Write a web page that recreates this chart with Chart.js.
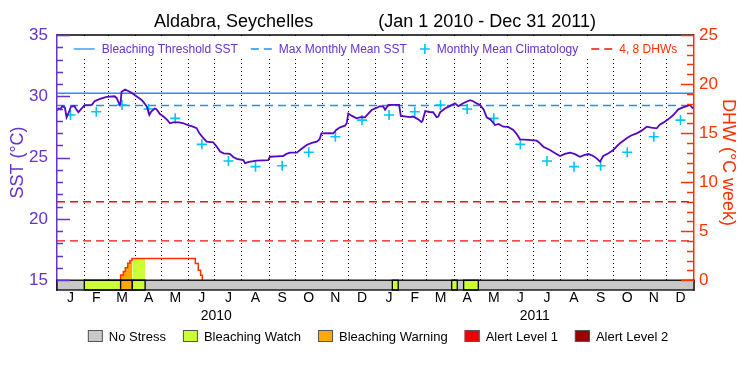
<!DOCTYPE html>
<html>
<head>
<meta charset="utf-8">
<script src="https://cdn.jsdelivr.net/npm/chart.js@4.4.1/dist/chart.umd.min.js"></script>
<style>
  html, body { margin: 0; padding: 0; background: #fff; }
</style>
</head>
<body>
<canvas id="chart" width="750" height="375"></canvas>
<script>
const MONTH_LABELS = ['J', 'F', 'M', 'A', 'M', 'J', 'J', 'A', 'S', 'O', 'N', 'D'];
const YEARS = [2010, 2011];

// monthly mean climatology (same every year)
const climatology = [28.47, 28.74, 29.29, 28.96, 28.2, 26.08, 24.72, 24.26, 24.34, 25.43, 26.7, 28.06];
const maxMonthlyMean = 29.25;
const bleachingThreshold = 30.25;
const dhwLevels = [4, 8];

const sstTickLabels = [15, 20, 25, 30, 35];
const dhwTickLabels = [0, 5, 10, 15, 20, 25];

// SST, day 0 = Jan 1 2010
const sstDay = [
  0, 2, 4, 6, 9, 11, 13, 16, 20, 22,
  24.5, 28, 32, 40, 43, 48, 51, 57, 66, 68.5,
  70.5, 72, 73, 74, 78, 81, 85, 89, 93, 97,
  100, 103, 105.8, 108, 112, 114, 118, 122, 126, 129.5,
  133, 140, 145, 150, 155, 160, 163, 167, 171.5, 179,
  183, 186.8, 191, 198, 202, 206, 213.5, 215.5, 220, 228.8,
  242, 244, 252, 259, 263, 267, 274.7, 280, 286, 292,
  297.6, 301, 303, 312, 316.6, 320, 324.3, 330, 332, 333.8,
  338, 343.4, 348, 353, 357, 360.6, 366, 370, 374, 376,
  379.7, 385.4, 392, 394, 404.5, 408, 414, 417.5, 419, 422,
  427, 431, 435, 437, 439, 444.6, 450, 456, 460, 466,
  473.3, 477, 481, 485, 489, 492.4, 497, 502, 506, 511.5,
  517, 523, 527, 530.6, 540, 549.7, 553, 557.3, 565, 570,
  576.4, 582, 587.9, 593, 599.4, 604, 609, 614, 618.5, 622.3,
  626, 632, 637.5, 642, 645.2, 652.9, 658, 664.3, 670, 675.8,
  681, 687.2, 691, 694.8, 700, 706.3, 712, 716, 721.6, 725.4,
  729,
];
const sstVal = [
  28.85, 29.0, 28.95, 29.2, 29.1, 28.28, 28.6, 29.15, 29.2, 28.95,
  28.7, 29.0, 29.28, 29.3, 29.6, 29.75, 29.83, 29.95, 30.0, 29.85,
  29.5, 29.3, 29.6, 30.37, 30.56, 30.45, 30.3, 30.1, 29.9, 29.7,
  29.45, 29.15, 28.47, 28.75, 29.0, 28.95, 28.55, 28.35, 28.1, 27.8,
  27.88, 27.87, 27.8, 27.65, 27.55, 27.4, 27.0, 26.65, 26.3, 26.25,
  25.9, 25.5, 25.35, 25.3, 25.05, 24.9, 24.8, 24.55, 24.65, 24.75,
  24.8, 25.07, 25.1, 25.13, 25.3, 25.4, 25.4, 25.7, 26.03, 26.2,
  26.3, 26.5, 26.98, 27.0, 26.98, 27.25, 27.47, 27.6, 27.8, 28.6,
  28.4, 28.2, 28.3, 28.28, 28.6, 28.88, 29.05, 29.2, 29.15, 28.9,
  29.29, 29.3, 29.3, 28.4, 28.3, 28.35, 28.12, 27.9, 28.0, 28.8,
  28.72, 28.7, 28.3, 28.35, 28.69, 29.0, 29.2, 29.42, 29.2, 29.45,
  29.69, 29.6, 29.42, 29.3, 28.9, 28.28, 28.1, 27.66, 27.75, 27.52,
  27.5, 27.25, 26.9, 26.49, 26.45, 26.38, 26.2, 25.89, 25.62, 25.4,
  25.13, 25.3, 25.4, 25.3, 25.07, 25.2, 25.29, 25.15, 24.94, 24.67,
  25.13, 25.35, 25.62, 25.95, 26.17, 26.57, 26.8, 26.98, 27.2, 27.52,
  27.45, 27.39, 27.7, 27.85, 28.1, 28.47, 28.94, 29.05, 29.2, 29.29,
  29.0,
];

// degree heating weeks, value holds from each day on
const dhwDay = [72, 72.9, 76, 78.3, 81, 83.6, 85.9, 158.5, 161.9, 164.6, 166.5];
const dhwVal = [0, 0.54, 0.88, 1.28, 1.73, 2.0, 2.2, 1.7, 1.02, 0.5, 0];

// stress periods, everything else is "No Stress"
const stressStart = [31.3, 72.9, 86.3, 384.3, 452.3, 466];
const stressEnd = [72.9, 86.3, 101, 391, 458.7, 482.8];
const stressLevel = [1, 2, 1, 1, 1, 1];
const stressNames = ['No Stress', 'Bleaching Watch', 'Bleaching Warning', 'Alert Level 1', 'Alert Level 2'];
const stressColors = ['#c8c8c8', '#ccff33', '#ffaa00', '#ee0000', '#990000'];

const FONT = "'Liberation Sans', Arial, sans-serif";
const PURPLE = '#6633cc';
const SST_COLOR = '#5508c0';
const ORANGE = '#ff3300';
const BLUE = '#1e90ff';
const CYAN = '#00c4ff';
const RED = '#ee1111';

const dayOf = (y, m, d) => (Date.UTC(y, m, d) - Date.UTC(YEARS[0], 0, 1)) / 864e5;
const monthStarts = [];
YEARS.forEach(y => { for (let m = 0; m < 12; m++) monthStarts.push(dayOf(y, m, 1)); });
const lastDay = dayOf(YEARS[YEARS.length - 1] + 1, 0, 1);
const monthEnds = monthStarts.slice(1).concat(lastDay);
const monthMids = monthStarts.map((s, i) => (s + monthEnds[i]) / 2);
const yearMids = YEARS.map(y => (dayOf(y, 0, 1) + dayOf(y + 1, 0, 1)) / 2);

function dhwAt(day) {
  let v = 0;
  dhwDay.forEach((d, i) => { if (d <= day) v = dhwVal[i]; });
  return v;
}

// DHW area filled with the stress colour of each period
const fillSets = stressStart.map((s, i) => {
  const e = stressEnd[i];
  const pts = [{ x: s, y: dhwAt(s) }];
  dhwDay.forEach((d, j) => { if (d > s && d < e) pts.push({ x: d, y: dhwVal[j] }); });
  pts.push({ x: e, y: dhwAt(e) });
  return {
    data: pts, yAxisID: 'y2', stepped: true, borderWidth: 0, pointRadius: 0,
    backgroundColor: stressColors[stressLevel[i]], fill: { value: 0 }, order: 5,
  };
});

const flat = (v) => [{ x: 0, y: v }, { x: lastDay, y: v }];

const datasets = [
  { label: 'Bleaching Threshold SST', legendColor: PURPLE, data: flat(bleachingThreshold), borderColor: BLUE, borderWidth: 1.3, pointRadius: 0, order: 3 },
  { label: 'Max Monthly Mean SST', legendColor: PURPLE, data: flat(maxMonthlyMean), borderColor: BLUE, borderDash: [8, 5], borderWidth: 1.3, pointRadius: 0, order: 3 },
  { label: 'Monthly Mean Climatology', legendColor: PURPLE, data: monthMids.map((x, i) => ({ x, y: climatology[i % 12] })), showLine: false, pointStyle: 'cross', pointRadius: 5, borderColor: CYAN, borderWidth: 1.6, order: 1 },
  ...dhwLevels.map((v, i) => ({ label: i === 0 ? dhwLevels.join(', ') + ' DHWs' : undefined, legendColor: ORANGE, data: flat(v), yAxisID: 'y2', borderColor: RED, borderDash: [8, 5], borderWidth: 1.3, pointRadius: 0, order: 3 })),
  { data: sstDay.map((x, i) => ({ x, y: sstVal[i] })), borderColor: SST_COLOR, borderWidth: 1.8, pointRadius: 0, order: 0 },
  { data: dhwDay.map((x, i) => ({ x, y: dhwVal[i] })), yAxisID: 'y2', stepped: true, borderColor: ORANGE, borderWidth: 1.5, pointRadius: 0, order: 2 },
  ...fillSets,
];

const frame = {
  id: 'frame',
  afterDatasetsDraw(chart) {
    const { ctx, chartArea: a, scales } = chart;
    const x = scales.x, y = scales.y, y2 = scales.y2;
    ctx.save();
    // stress bar
    const top = y.getPixelForValue(sstTickLabels[0]);
    const h = a.bottom - top;
    ctx.lineWidth = 1.3;
    ctx.strokeStyle = '#000';
    ctx.fillStyle = stressColors[0];
    ctx.fillRect(a.left, top, a.width, h);
    stressStart.forEach((s, i) => {
      const x0 = x.getPixelForValue(s), x1 = x.getPixelForValue(stressEnd[i]);
      ctx.fillStyle = stressColors[stressLevel[i]];
      ctx.fillRect(x0, top, x1 - x0, h);
      ctx.strokeRect(x0, top, x1 - x0, h);
    });
    ctx.strokeRect(a.left, top, a.width, h);
    // legend strip stays clear of the grid
    ctx.fillStyle = '#fff';
    ctx.fillRect(a.left + 1, a.top + 1, a.width - 2, 23);
    // top frame
    ctx.beginPath();
    ctx.moveTo(a.left, a.top); ctx.lineTo(a.right, a.top);
    ctx.stroke();
    // inward ticks
    ctx.lineWidth = 1.5;
    ctx.strokeStyle = PURPLE;
    for (let v = sstTickLabels[0]; v <= sstTickLabels[sstTickLabels.length - 1]; v++) {
      const py = Math.round(y.getPixelForValue(v)) + 0.5;
      const len = sstTickLabels.includes(v) ? 13 : 6;
      ctx.beginPath(); ctx.moveTo(a.left, py); ctx.lineTo(a.left + len, py); ctx.stroke();
    }
    ctx.strokeStyle = ORANGE;
    for (let v = dhwTickLabels[0]; v <= dhwTickLabels[dhwTickLabels.length - 1]; v++) {
      const py = Math.round(y2.getPixelForValue(v)) + 0.5;
      const len = dhwTickLabels.includes(v) ? 13 : 7;
      ctx.beginPath(); ctx.moveTo(a.right, py); ctx.lineTo(a.right - len, py); ctx.stroke();
    }
    // legend inside the plot
    ctx.font = '12px ' + FONT;
    ctx.textBaseline = 'middle';
    const items = chart.data.datasets.filter(d => d.label);
    const sampleW = d => d.pointStyle === 'cross' ? 10 : 21;
    const widths = items.map(d => sampleW(d) + 7 + ctx.measureText(d.label).width);
    const gap = 13;
    let lx = (a.left + a.right) / 2 - (widths.reduce((p, c) => p + c, 0) + gap * (items.length - 1)) / 2;
    const ly = a.top + 14;
    items.forEach((d, i) => {
      ctx.strokeStyle = d.borderColor;
      ctx.lineWidth = d.borderWidth;
      if (d.pointStyle === 'cross') {
        ctx.setLineDash([]);
        ctx.beginPath();
        ctx.moveTo(lx, ly); ctx.lineTo(lx + 10, ly);
        ctx.moveTo(lx + 5, ly - 5); ctx.lineTo(lx + 5, ly + 5);
        ctx.stroke();
      } else {
        ctx.setLineDash(d.borderDash || []);
        ctx.beginPath(); ctx.moveTo(lx, ly); ctx.lineTo(lx + 21, ly); ctx.stroke();
      }
      ctx.setLineDash([]);
      ctx.fillStyle = d.legendColor;
      ctx.fillText(d.label, lx + sampleW(d) + 7, ly + 1);
      lx += widths[i] + gap;
    });
    ctx.restore();
  },
  afterDraw(chart) {
    const { ctx } = chart;
    ctx.save();
    ctx.font = '13px ' + FONT;
    ctx.textBaseline = 'middle';
    const widths = stressNames.map(n => 15 + 6 + ctx.measureText(n).width);
    const gap = 17;
    let lx = 378 - (widths.reduce((p, c) => p + c, 0) + gap * (stressNames.length - 1)) / 2;
    const ly = 336;
    stressNames.forEach((n, i) => {
      ctx.fillStyle = stressColors[i];
      ctx.fillRect(lx, ly - 6, 15, 12);
      ctx.strokeStyle = '#555';
      ctx.lineWidth = 1;
      ctx.strokeRect(lx + 0.5, ly - 5.5, 14, 11);
      ctx.fillStyle = '#000';
      ctx.fillText(n, lx + 21, ly + 1);
      lx += widths[i] + gap;
    });
    ctx.restore();
  },
};

new Chart(document.getElementById('chart'), {
  type: 'line',
  data: { datasets },
  plugins: [frame],
  options: {
    responsive: false,
    animation: false,
    devicePixelRatio: 1,
    layout: { padding: { bottom: 49 } },
    plugins: {
      legend: { display: false },
      tooltip: { enabled: false },
      title: {
        display: true,
        text: 'Aldabra, Seychelles             (Jan 1 2010 - Dec 31 2011)',
        color: '#000',
        font: { family: FONT, size: 18, weight: 'normal' },
        padding: { top: 11, bottom: 2.4 },
      },
    },
    scales: {
      xg: {
        type: 'linear', position: 'bottom', min: 0, max: lastDay, weight: 0,
        afterBuildTicks: s => { s.ticks = monthStarts.slice(1).map(v => ({ value: v })); },
        afterFit: s => { s.height = 0; },
        ticks: { display: false },
        grid: { color: '#000', lineWidth: 1, drawTicks: false, borderDash: [1, 3] },
        border: { display: false, dash: [1, 3] },
      },
      x: {
        type: 'linear', position: 'bottom', min: 0, max: lastDay, weight: 1,
        afterBuildTicks: s => { s.ticks = monthMids.map(v => ({ value: v })); },
        afterFit: s => { s.height = 18; },
        ticks: {
          autoSkip: false, maxRotation: 0, padding: 0, color: '#000',
          font: { family: FONT, size: 14 },
          callback: (v, i) => MONTH_LABELS[i % 12],
        },
        grid: { display: false, drawTicks: false },
        border: { display: false },
      },
      xy: {
        type: 'linear', position: 'bottom', min: 0, max: lastDay, weight: 2,
        afterBuildTicks: s => { s.ticks = yearMids.map(v => ({ value: v })); },
        afterFit: s => { s.height = 18; },
        ticks: {
          autoSkip: false, maxRotation: 0, padding: 0, color: '#000',
          font: { family: FONT, size: 14 },
          callback: (v, i) => String(YEARS[i]),
        },
        grid: { display: false, drawTicks: false },
        border: { display: false },
      },
      y: {
        position: 'left', min: 14.2, max: 35,
        afterBuildTicks: s => { s.ticks = sstTickLabels.map(v => ({ value: v })); },
        afterFit: s => { s.width = 57; },
        ticks: { color: PURPLE, padding: 9, font: { family: FONT, size: 17 } },
        grid: { display: false, drawTicks: false },
        border: { color: PURPLE, width: 1.5 },
        title: { display: true, text: 'SST (°C)', color: PURPLE, font: { family: FONT, size: 18 }, padding: { top: 7 } },
      },
      y2: {
        position: 'right', min: -1, max: 25,
        afterBuildTicks: s => { s.ticks = dhwTickLabels.map(v => ({ value: v })); },
        afterFit: s => { s.width = 56; },
        ticks: { color: ORANGE, padding: 5, font: { family: FONT, size: 17 } },
        grid: { display: false, drawTicks: false },
        border: { color: ORANGE, width: 1.5 },
        title: { display: true, text: 'DHW (°C week)', color: ORANGE, font: { family: FONT, size: 18 }, padding: { top: 11 } },
      },
    },
  },
});
</script>
</body>
</html>
